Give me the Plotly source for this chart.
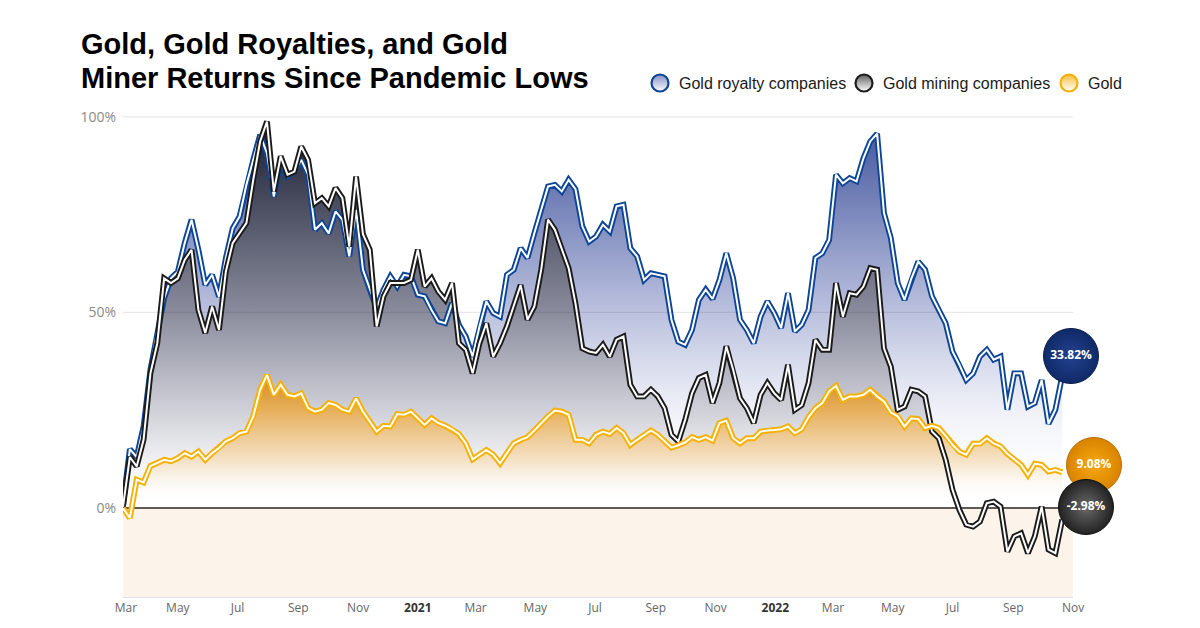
import plotly.graph_objects as go
import pandas as pd

W, H = 1200, 628

dates = [
    "2020-03-06", "2020-03-13", "2020-03-20", "2020-03-27",
    "2020-04-03", "2020-04-10", "2020-04-17", "2020-04-24",
    "2020-05-01", "2020-05-08", "2020-05-15", "2020-05-22", "2020-05-29",
    "2020-06-05", "2020-06-12", "2020-06-19", "2020-06-26",
    "2020-07-03", "2020-07-10", "2020-07-17", "2020-07-24", "2020-07-31",
    "2020-08-07", "2020-08-14", "2020-08-21", "2020-08-28",
    "2020-09-04", "2020-09-11", "2020-09-18", "2020-09-25",
    "2020-10-02", "2020-10-09", "2020-10-16", "2020-10-23", "2020-10-30",
    "2020-11-06", "2020-11-13", "2020-11-20", "2020-11-27",
    "2020-12-04", "2020-12-11", "2020-12-18", "2020-12-25",
    "2021-01-01", "2021-01-08", "2021-01-15", "2021-01-22", "2021-01-29",
    "2021-02-05", "2021-02-12", "2021-02-19", "2021-02-26",
    "2021-03-05", "2021-03-12", "2021-03-19", "2021-03-26",
    "2021-04-02", "2021-04-09", "2021-04-16", "2021-04-23", "2021-04-30",
    "2021-05-07", "2021-05-14", "2021-05-21", "2021-05-28",
    "2021-06-04", "2021-06-11", "2021-06-18", "2021-06-25",
    "2021-07-02", "2021-07-09", "2021-07-16", "2021-07-23", "2021-07-30",
    "2021-08-06", "2021-08-13", "2021-08-20", "2021-08-27",
    "2021-09-03", "2021-09-10", "2021-09-17", "2021-09-24",
    "2021-10-01", "2021-10-08", "2021-10-15", "2021-10-22", "2021-10-29",
    "2021-11-05", "2021-11-12", "2021-11-19", "2021-11-26",
    "2021-12-03", "2021-12-10", "2021-12-17", "2021-12-24", "2021-12-31",
    "2022-01-07", "2022-01-14", "2022-01-21", "2022-01-28",
    "2022-02-04", "2022-02-11", "2022-02-18", "2022-02-25",
    "2022-03-04", "2022-03-11", "2022-03-18", "2022-03-25",
    "2022-04-01", "2022-04-08", "2022-04-15", "2022-04-22", "2022-04-29",
    "2022-05-06", "2022-05-13", "2022-05-20", "2022-05-27",
    "2022-06-03", "2022-06-10", "2022-06-17", "2022-06-24",
    "2022-07-01", "2022-07-08", "2022-07-15", "2022-07-22", "2022-07-29",
    "2022-08-05", "2022-08-12", "2022-08-19", "2022-08-26",
    "2022-09-02", "2022-09-09", "2022-09-16", "2022-09-23", "2022-09-30",
    "2022-10-07", "2022-10-14", "2022-10-21",
]

royalty = [
    0.8, 15.0, 13.0, 20.8, 35.3, 45.5, 53.6, 58.7, 60.4, 67.7,
    73.7, 66.0, 57.0, 59.6, 54.0, 63.9, 71.5, 74.5, 82.6, 89.0,
    95.4, 90.7, 79.6, 88.2, 84.7, 86.0, 89.0, 85.2, 71.1, 72.8,
    70.2, 75.8, 73.7, 64.3, 76.2, 60.9, 55.8, 51.1, 55.8, 59.2,
    56.6, 59.6, 59.2, 54.5, 54.1, 50.6, 47.7, 47.2, 52.4, 46.8,
    43.8, 38.7, 46.4, 52.8, 49.8, 48.9, 59.6, 60.9, 66.4, 63.9,
    70.2, 76.2, 82.2, 82.6, 80.9, 83.9, 81.5, 72.0, 68.1, 69.4,
    72.4, 70.7, 77.1, 77.5, 66.4, 64.3, 58.3, 60.0, 59.6, 59.2,
    48.1, 42.5, 41.7, 45.5, 53.2, 55.8, 53.4, 58.3, 65.1, 58.7,
    48.1, 45.5, 42.1, 48.9, 52.8, 49.8, 46.0, 54.9, 45.1, 46.8,
    50.6, 63.9, 65.1, 68.5, 85.2, 83.0, 84.3, 83.5, 89.4, 93.7,
    95.7, 75.4, 69.0, 57.5, 53.2, 58.7, 63.0, 60.9, 54.1, 50.6,
    47.2, 40.0, 36.6, 32.7, 34.4, 38.7, 40.4, 37.9, 38.7, 25.1,
    34.4, 34.4, 25.9, 26.8, 32.7, 21.5, 25.1, 33.82,
]

mining = [
    0.3, 13.0, 10.6, 17.4, 34.4, 42.1, 58.7, 57.5, 58.7, 63.4,
    66.0, 50.6, 44.7, 51.5, 45.5, 60.4, 67.7, 70.2, 72.8, 83.9,
    93.7, 98.8, 80.9, 89.9, 85.2, 86.0, 92.4, 89.0, 77.9, 79.2,
    77.1, 81.8, 79.2, 66.8, 84.7, 70.0, 66.0, 46.4, 54.1, 57.5,
    57.5, 57.5, 58.3, 66.0, 56.6, 58.7, 55.3, 53.2, 57.5, 42.1,
    40.4, 34.4, 42.1, 47.2, 38.7, 42.1, 46.4, 51.9, 57.0, 48.1,
    51.5, 60.9, 73.7, 71.1, 66.0, 61.3, 52.3, 40.8, 40.0, 39.6,
    41.7, 38.7, 43.0, 43.8, 31.5, 28.5, 28.5, 30.2, 28.5, 25.5,
    18.7, 17.0, 22.5, 29.3, 33.2, 34.0, 26.8, 31.9, 41.3, 35.3,
    28.0, 25.5, 21.7, 28.9, 31.9, 29.3, 27.6, 36.6, 25.1, 26.3,
    31.9, 43.0, 40.4, 40.4, 57.5, 48.9, 54.9, 54.5, 56.6, 61.3,
    60.9, 40.8, 36.1, 25.1, 25.9, 30.2, 29.8, 28.5, 19.5, 17.8,
    12.3, 4.6, -0.5, -4.3, -4.8, -3.5, 1.2, 1.6, 0.3, -11.2,
    -7.3, -6.5, -11.6, -7.3, 0.3, -10.7, -11.6, -2.98,
]

gold = [
    -0.1, -2.6, 7.2, 6.5, 10.7, 11.4, 12.3, 11.9, 12.7, 14.0,
    13.1, 14.4, 12.3, 14.0, 15.3, 17.0, 17.8, 19.1, 19.5, 23.4,
    30.2, 34.0, 28.9, 31.5, 28.9, 28.5, 29.3, 25.5, 24.6, 25.1,
    26.8, 26.3, 25.1, 24.6, 28.0, 24.6, 22.1, 19.5, 21.0, 20.8,
    24.0, 23.8, 24.6, 22.9, 21.2, 22.9, 21.7, 21.0, 20.1, 18.9,
    16.5, 12.4, 13.6, 14.8, 13.6, 11.4, 14.0, 16.5, 17.4, 18.1,
    19.8, 21.7, 23.4, 24.9, 24.6, 23.8, 17.4, 17.4, 16.5, 18.7,
    19.5, 18.9, 20.4, 19.1, 16.1, 17.4, 18.7, 19.8, 18.7, 17.0,
    15.4, 16.0, 16.7, 18.1, 17.4, 18.1, 17.2, 21.7, 22.3, 17.8,
    16.5, 17.8, 17.8, 19.5, 19.8, 19.9, 20.1, 20.8, 19.1, 20.1,
    23.2, 25.5, 26.8, 29.8, 31.2, 27.6, 28.5, 28.5, 28.9, 30.2,
    28.5, 27.2, 24.4, 23.4, 20.8, 22.9, 22.7, 20.4, 21.0, 20.4,
    18.4, 16.1, 14.4, 13.6, 16.4, 16.4, 17.8, 16.5, 15.7, 13.8,
    12.4, 11.0, 8.4, 11.3, 11.0, 9.3, 9.7, 9.08,
]

assert len(dates) == len(royalty) == len(mining) == len(gold), (
    len(dates), len(royalty), len(mining), len(gold))

series_names = ["Gold royalty companies", "Gold mining companies", "Gold"]
title_lines = ["Gold, Gold Royalties, and Gold", "Miner Returns Since Pandemic Lows"]

tick_dates = ["2020-03-09", "2020-05-01", "2020-07-01", "2020-09-01", "2020-11-01",
              "2021-01-01", "2021-03-01", "2021-05-01", "2021-07-01", "2021-09-01",
              "2021-11-01", "2022-01-01", "2022-03-01", "2022-05-01", "2022-07-01",
              "2022-09-01", "2022-11-01"]
tick_labels = ["Mar", "May", "Jul", "Sep", "Nov", "<b style='color:#333'>2021</b>", "Mar", "May",
               "Jul", "Sep", "Nov", "<b style='color:#333'>2022</b>", "Mar", "May", "Jul",
               "Sep", "Nov"]
y_ticks = [0, 50, 100]
y_labels = ["0%", "50%", "100%"]

# Styling
BLUE = "#0d4597"
BLACK = "#1b1b1b"
GOLD = "#f6b100"

x_range = ["2020-03-06", "2022-11-01"]
y_range = [-22.8, 104.3]
xdom = [123 / W, 1073 / W]
ydom = [(H - 597) / H, (H - 100) / H]

fig = go.Figure()

fills = [
    (royalty, 0, 100, [[0, "rgba(255,255,255,0)"], [0.25, "rgba(236,238,246,0.85)"],
                       [0.55, "rgba(175,182,216,1)"], [1, "rgba(62,82,155,1)"]]),
    (mining, 0, 100, [[0, "rgba(255,255,255,0)"], [0.12, "rgba(240,240,243,0.9)"],
                      [0.5, "rgba(138,140,157,1)"], [1, "rgba(22,27,46,1)"]]),
    (gold, 2, 34, [[0, "rgba(255,255,255,0)"], [0.3, "rgba(246,226,196,0.9)"],
                   [0.7, "rgba(232,178,96,1)"], [1, "rgba(212,138,30,1)"]]),
]
for vals, s0, s1, cs in fills:
    fig.add_trace(go.Scatter(
        x=dates, y=vals, mode="lines", line=dict(width=0, color="rgba(0,0,0,0)"),
        fill="tozeroy",
        fillgradient=dict(type="vertical", start=s0, stop=s1, colorscale=cs),
        hoverinfo="skip", showlegend=False))

for vals, col in [(royalty, BLUE), (mining, BLACK), (gold, GOLD)]:
    fig.add_trace(go.Scatter(x=dates, y=vals, mode="lines",
                             line=dict(color=col, width=5.8), hoverinfo="skip",
                             showlegend=False))
    fig.add_trace(go.Scatter(x=dates, y=vals, mode="lines",
                             line=dict(color="white", width=2.0), hoverinfo="skip",
                             showlegend=False))

# End-value badges (pixel overlay, labelled with the series' last values)
badges = [
    (royalty[-1], 1071, 356, "#0f2a68", "#23428f", "#0a1d4a"),
    (gold[-1], 1094, 465, "#d98300", "#f7a90e", "#b86c00"),
    (mining[-1], 1086, 507, "#222222", "#6a6a6a", "#111111"),
]
for val, bx, by, edge, center, border in badges:
    fig.add_trace(go.Scatter(
        x=[bx], y=[by], xaxis="x2", yaxis="y2", mode="markers+text",
        marker=dict(size=55, color=edge, line=dict(color=border, width=1),
                    gradient=dict(type="radial", color=center)),
        text=[f"<b>{val:.2f}%</b>"], textposition="middle center",
        textfont=dict(family="Open Sans", size=12, color="white"),
        cliponaxis=False, hoverinfo="skip", showlegend=False))

# Legend (pixel overlay axes)
legend_items = [
    (660, BLUE, "rgba(120,135,190,0.9)"),
    (864, BLACK, "rgba(95,95,95,1)"),
    (1069, GOLD, "rgba(250,190,60,1)"),
]
for (cx, lc, fc), name in zip(legend_items, series_names):
    fig.add_trace(go.Scatter(
        x=[cx], y=[83], xaxis="x2", yaxis="y2", mode="markers",
        marker=dict(size=17, color=fc, line=dict(color=lc, width=2.2),
                    gradient=dict(type="vertical", color="white")),
        hoverinfo="skip", showlegend=False))
    fig.add_annotation(x=cx + 17, y=83, xref="x2", yref="y2", text=name,
                       showarrow=False, xanchor="left", yanchor="middle",
                       font=dict(family="Liberation Sans, Arial", size=16, color="#1a1a1a"))

for i, line in enumerate(title_lines):
    fig.add_annotation(
        x=79, y=44 + 34 * i, xref="x2", yref="y2", xanchor="left", yanchor="middle",
        showarrow=False, text=f"<b>{line}</b>",
        font=dict(family="Liberation Sans, Arial", size=29, color="#000000"))

# Peach negative band and grid lines
fig.add_shape(type="rect", xref="x domain", yref="y", x0=0, x1=1, y0=y_range[0], y1=0,
              fillcolor="#fcf3ea", line=dict(width=0), layer="below")
for gv in [50, 100]:
    fig.add_shape(type="line", xref="x domain", yref="y", x0=0, x1=1, y0=gv, y1=gv,
                  line=dict(color="rgba(0,0,0,0.09)", width=1.2), layer="above")

fig.update_layout(
    width=W, height=H, margin=dict(l=0, r=0, t=0, b=0, pad=0, autoexpand=False),
    paper_bgcolor="white", plot_bgcolor="rgba(0,0,0,0)",
    showlegend=False,
    xaxis=dict(domain=xdom, range=x_range, type="date", tickvals=tick_dates,
               ticktext=tick_labels, showgrid=False, zeroline=False,
               showline=True, linecolor="#dfe3ea", linewidth=1, ticks="",
               automargin=False,
               tickfont=dict(family="Open Sans", size=12, color="#666666"),
               fixedrange=True),
    yaxis=dict(domain=ydom, range=y_range, tickvals=y_ticks, ticktext=y_labels,
               showgrid=False, zeroline=True, zerolinecolor="#5f5955",
               zerolinewidth=1.6, showline=False, ticks="", automargin=False,
               ticklabelstandoff=6,
               tickfont=dict(family="Open Sans", size=14, color="#8a8a8a"),
               fixedrange=True),
    xaxis2=dict(domain=[0, 1], range=[0, W], visible=False, anchor="y2",
                fixedrange=True, automargin=False),
    yaxis2=dict(domain=[0, 1], range=[H, 0], visible=False, anchor="x2",
                fixedrange=True, automargin=False),
)

fig.write_html("out.html")
